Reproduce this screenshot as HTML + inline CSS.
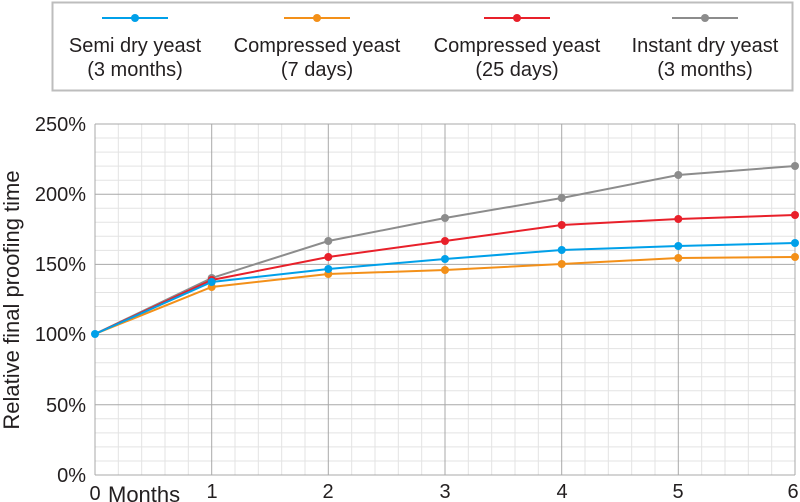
<!DOCTYPE html>
<html><head><style>body{margin:0;background:#fff}svg{display:block}</style></head><body>
<svg width="800" height="502" xmlns="http://www.w3.org/2000/svg" font-family="Liberation Sans, sans-serif" fill="#231f20">
<rect x="52.5" y="2.5" width="740" height="88" fill="#fff" stroke="#bdbdbd" stroke-width="2"/>
<g stroke-width="2">
<line x1="102" y1="18" x2="168" y2="18" stroke="#00a0e9"/><circle cx="135" cy="18" r="4" fill="#00a0e9"/>
<line x1="284" y1="18" x2="350" y2="18" stroke="#f39019"/><circle cx="317" cy="18" r="4" fill="#f39019"/>
<line x1="484" y1="18" x2="550" y2="18" stroke="#e8202a"/><circle cx="517" cy="18" r="4" fill="#e8202a"/>
<line x1="672" y1="18" x2="738" y2="18" stroke="#8c8c8c"/><circle cx="705" cy="18" r="4" fill="#8c8c8c"/>
</g>
<g font-size="20" text-anchor="middle">
<text x="135" y="52">Semi dry yeast</text><text x="135" y="76">(3 months)</text>
<text x="317" y="52">Compressed yeast</text><text x="317" y="76">(7 days)</text>
<text x="517" y="52">Compressed yeast</text><text x="517" y="76">(25 days)</text>
<text x="705" y="52">Instant dry yeast</text><text x="705" y="76">(3 months)</text>
</g>
<g stroke="#e3e3e3" stroke-width="1">
<line x1="118.3" y1="124" x2="118.3" y2="475"/><line x1="141.7" y1="124" x2="141.7" y2="475"/><line x1="165" y1="124" x2="165" y2="475"/><line x1="188.3" y1="124" x2="188.3" y2="475"/>
<line x1="235" y1="124" x2="235" y2="475"/><line x1="258.3" y1="124" x2="258.3" y2="475"/><line x1="281.7" y1="124" x2="281.7" y2="475"/><line x1="305" y1="124" x2="305" y2="475"/>
<line x1="351.7" y1="124" x2="351.7" y2="475"/><line x1="375" y1="124" x2="375" y2="475"/><line x1="398.3" y1="124" x2="398.3" y2="475"/><line x1="421.7" y1="124" x2="421.7" y2="475"/>
<line x1="468.3" y1="124" x2="468.3" y2="475"/><line x1="491.7" y1="124" x2="491.7" y2="475"/><line x1="515" y1="124" x2="515" y2="475"/><line x1="538.3" y1="124" x2="538.3" y2="475"/>
<line x1="585" y1="124" x2="585" y2="475"/><line x1="608.3" y1="124" x2="608.3" y2="475"/><line x1="631.7" y1="124" x2="631.7" y2="475"/><line x1="655" y1="124" x2="655" y2="475"/>
<line x1="701.7" y1="124" x2="701.7" y2="475"/><line x1="725" y1="124" x2="725" y2="475"/><line x1="748.3" y1="124" x2="748.3" y2="475"/><line x1="771.7" y1="124" x2="771.7" y2="475"/>
<line x1="95" y1="461" x2="795" y2="461"/><line x1="95" y1="446.9" x2="795" y2="446.9"/><line x1="95" y1="432.9" x2="795" y2="432.9"/><line x1="95" y1="418.8" x2="795" y2="418.8"/>
<line x1="95" y1="390.8" x2="795" y2="390.8"/><line x1="95" y1="376.7" x2="795" y2="376.7"/><line x1="95" y1="362.7" x2="795" y2="362.7"/><line x1="95" y1="348.6" x2="795" y2="348.6"/>
<line x1="95" y1="320.6" x2="795" y2="320.6"/><line x1="95" y1="306.5" x2="795" y2="306.5"/><line x1="95" y1="292.5" x2="795" y2="292.5"/><line x1="95" y1="278.4" x2="795" y2="278.4"/>
<line x1="95" y1="250.4" x2="795" y2="250.4"/><line x1="95" y1="236.3" x2="795" y2="236.3"/><line x1="95" y1="222.3" x2="795" y2="222.3"/><line x1="95" y1="208.2" x2="795" y2="208.2"/>
<line x1="95" y1="180.2" x2="795" y2="180.2"/><line x1="95" y1="166.1" x2="795" y2="166.1"/><line x1="95" y1="152.1" x2="795" y2="152.1"/><line x1="95" y1="138" x2="795" y2="138"/>
</g>
<g stroke="#a8a8a8" stroke-width="1">
<line x1="95" y1="124" x2="95" y2="475"/><line x1="211.7" y1="124" x2="211.7" y2="475"/><line x1="328.3" y1="124" x2="328.3" y2="475"/><line x1="445" y1="124" x2="445" y2="475"/><line x1="561.7" y1="124" x2="561.7" y2="475"/><line x1="678.3" y1="124" x2="678.3" y2="475"/><line x1="795" y1="124" x2="795" y2="475"/>
<line x1="95" y1="475" x2="795" y2="475"/><line x1="95" y1="404.8" x2="795" y2="404.8"/><line x1="95" y1="334.6" x2="795" y2="334.6"/><line x1="95" y1="264.4" x2="795" y2="264.4"/><line x1="95" y1="194.2" x2="795" y2="194.2"/><line x1="95" y1="124" x2="795" y2="124"/>
</g>
<g font-size="20" text-anchor="end">
<text x="86" y="131">250%</text><text x="86" y="201">200%</text><text x="86" y="271">150%</text>
<text x="86" y="341">100%</text><text x="86" y="412">50%</text><text x="86" y="482">0%</text>
</g>
<g font-size="20" text-anchor="middle">
<text x="95" y="500">0</text><text x="212" y="498">1</text><text x="328" y="498">2</text><text x="445" y="498">3</text><text x="562" y="498">4</text><text x="678" y="498">5</text><text x="793" y="498">6</text>
</g>
<text x="108" y="502" font-size="22">Months</text>
<text transform="translate(19,300) rotate(-90)" font-size="22" text-anchor="middle">Relative final proofing time</text>
<g fill="none" stroke-width="2">
<polyline stroke="#8c8c8c" points="95,334 211.7,278 328.3,241 445,218 561.7,198 678.3,175 795,166"/>
<polyline stroke="#e8202a" points="95,334 211.7,280 328.3,257 445,241 561.7,225 678.3,219 795,215"/>
<polyline stroke="#f39019" points="95,334 211.7,287 328.3,274 445,270 561.7,264 678.3,258 795,257"/>
<polyline stroke="#00a0e9" points="95,334 211.7,282 328.3,269 445,259 561.7,250 678.3,246 795,243"/>
</g>
<g fill="#8c8c8c"><circle cx="211.7" cy="278" r="4"/><circle cx="328.3" cy="241" r="4"/><circle cx="445" cy="218" r="4"/><circle cx="561.7" cy="198" r="4"/><circle cx="678.3" cy="175" r="4"/><circle cx="795" cy="166" r="4"/></g>
<g fill="#e8202a"><circle cx="211.7" cy="280" r="4"/><circle cx="328.3" cy="257" r="4"/><circle cx="445" cy="241" r="4"/><circle cx="561.7" cy="225" r="4"/><circle cx="678.3" cy="219" r="4"/><circle cx="795" cy="215" r="4"/></g>
<g fill="#f39019"><circle cx="211.7" cy="287" r="4"/><circle cx="328.3" cy="274" r="4"/><circle cx="445" cy="270" r="4"/><circle cx="561.7" cy="264" r="4"/><circle cx="678.3" cy="258" r="4"/><circle cx="795" cy="257" r="4"/></g>
<g fill="#00a0e9"><circle cx="95" cy="334" r="4"/><circle cx="211.7" cy="282" r="4"/><circle cx="328.3" cy="269" r="4"/><circle cx="445" cy="259" r="4"/><circle cx="561.7" cy="250" r="4"/><circle cx="678.3" cy="246" r="4"/><circle cx="795" cy="243" r="4"/></g>
</svg>
</body></html>
